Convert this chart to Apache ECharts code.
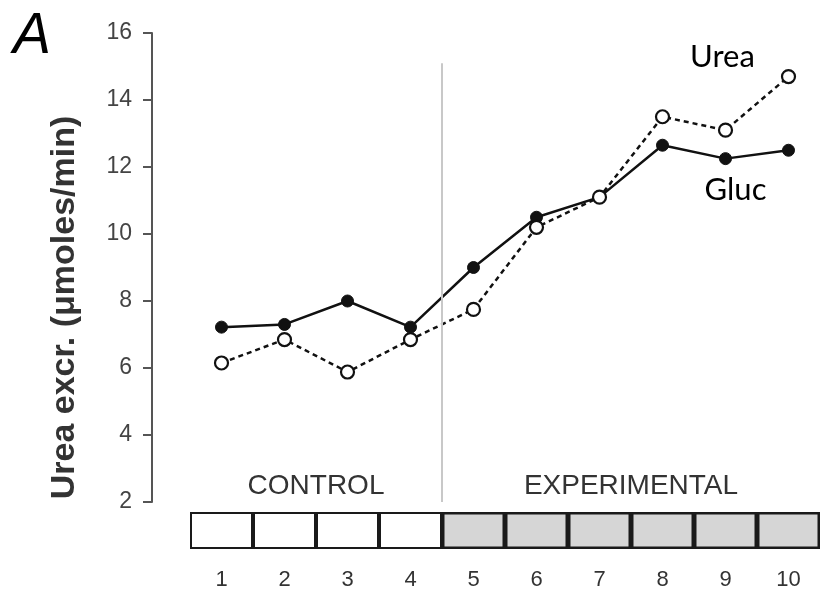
<!DOCTYPE html>
<html>
<head>
<meta charset="utf-8">
<script src="https://cdn.jsdelivr.net/npm/echarts@6/dist/echarts.min.js"></script>
<style>html,body{margin:0;padding:0;background:#fff}#c{width:820px;height:595px}</style>
</head>
<body>
<div id="c"></div>
<script>
const periods = [1, 2, 3, 4, 5, 6, 7, 8, 9, 10];
const gluc = [7.22, 7.3, 8.0, 7.22, 9.0, 10.5, 11.1, 12.65, 12.25, 12.5];
const urea = [6.15, 6.85, 5.88, 6.85, 7.75, 10.2, 11.1, 13.5, 13.1, 14.7];
const yTicks = { min: 2, max: 16, interval: 2 };
const phases = ['control', 'control', 'control', 'control', 'exp', 'exp', 'exp', 'exp', 'exp', 'exp'];
const phaseLabels = { control: 'CONTROL', exp: 'EXPERIMENTAL' };
const dividerAt = 4.5;

const chart = echarts.init(document.getElementById('c'));
const pairs = arr => arr.map((v, i) => [periods[i], v]);

const glucData = pairs(gluc).map((p, i) => i === 8 ? {
  value: p,
  label: { show: true, position: 'bottom', distance: 9, offset: [10, 0], formatter: 'Gluc',
           fontFamily: 'Lato', fontSize: 31, color: '#000' }
} : p);
const ureaData = pairs(urea).map((p, i) => i === 8 ? {
  value: p,
  label: { show: true, position: 'top', distance: 50, offset: [-3, 0], formatter: 'Urea',
           fontFamily: 'Lato', fontSize: 31, color: '#000' }
} : p);

chart.setOption({
  animation: false,
  backgroundColor: '#fff',
  title: {
    text: 'A', left: 8, top: 4,
    textStyle: { fontFamily: 'Liberation Sans', fontStyle: 'italic', fontWeight: 'normal', fontSize: 57, color: '#000' }
  },
  grid: [
    { left: 190, right: 0, top: 33, height: 469 },
    { left: 190, right: 0, top: 512, height: 37 }
  ],
  xAxis: [
    { type: 'value', gridIndex: 0, min: 0.5, max: 10.5, show: false },
    { type: 'category', gridIndex: 1, data: periods.map(String),
      axisLine: { show: false }, axisTick: { show: false },
      axisLabel: { margin: 20, fontFamily: 'Liberation Sans', fontSize: 22, color: '#333' } }
  ],
  yAxis: [
    { type: 'value', gridIndex: 0, min: yTicks.min, max: yTicks.max, interval: yTicks.interval,
      offset: 38,
      name: 'Urea excr. (\u03bcmoles/min)', nameLocation: 'middle', nameGap: 70,
      nameTextStyle: { fontFamily: 'Liberation Sans', fontWeight: 'bold', fontSize: 34, color: '#333', padding: [0, 80, 0, 0] },
      axisLine: { show: true, lineStyle: { color: '#555', width: 2 } },
      axisTick: { show: true, length: 9, lineStyle: { color: '#555', width: 2 } },
      axisLabel: { margin: 20, fontFamily: 'Liberation Sans', fontSize: 23, color: '#444' },
      splitLine: { show: false } },
    { type: 'value', gridIndex: 1, min: 0, max: 1, show: false }
  ],
  series: [
    { type: 'bar', xAxisIndex: 1, yAxisIndex: 1, barWidth: '100%', barGap: 0,
      data: phases.map(p => ({ value: 1, itemStyle: {
        color: p === 'exp' ? '#d6d6d6' : '#ffffff',
        borderColor: '#1a1a1a', borderWidth: p === 'exp' ? 2.5 : 2 } })),
      silent: true, z: 1 },
    { name: 'Gluc', type: 'line', xAxisIndex: 0, yAxisIndex: 0, data: glucData,
      symbol: 'circle', symbolSize: 12,
      lineStyle: { color: '#111', width: 2.5 },
      itemStyle: { color: '#111', borderColor: '#111', borderWidth: 1 },
      markLine: { silent: true, symbol: 'none', label: { show: false },
        lineStyle: { color: '#c8c8c8', width: 2, type: 'solid' },
        data: [[{ coord: [dividerAt, 15.1] }, { coord: [dividerAt, yTicks.min] }]] },
      markArea: { silent: true, itemStyle: { color: 'rgba(0,0,0,0)' },
        label: { position: 'insideBottom', distance: 2, fontFamily: 'Liberation Sans', fontSize: 28, color: '#333' },
        data: [
          [{ name: phaseLabels.control, coord: [0.5, yTicks.min] }, { coord: [dividerAt, 3] }],
          [{ name: phaseLabels.exp, coord: [dividerAt, yTicks.min] }, { coord: [periods.length + 0.5, 3] }]
        ] },
      z: 3 },
    { name: 'Urea', type: 'line', xAxisIndex: 0, yAxisIndex: 0, data: ureaData,
      symbol: 'circle', symbolSize: 13,
      lineStyle: { color: '#111', width: 2.5, type: [5, 4] },
      itemStyle: { color: '#fff', borderColor: '#111', borderWidth: 2.2 },
      z: 4 }
  ]
});
</script>
</body>
</html>
